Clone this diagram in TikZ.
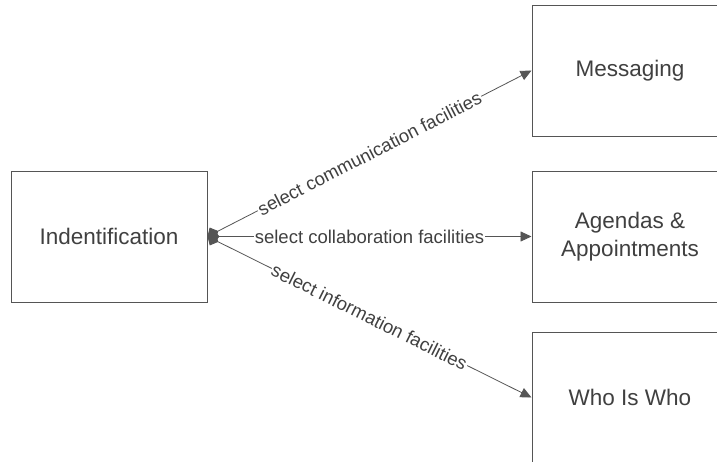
\documentclass[tikz,border=0pt]{standalone}
\usepackage{fontspec}
\setmainfont{Liberation Sans}
\usetikzlibrary{arrows.meta}
\definecolor{ink}{HTML}{404040}
\definecolor{edge}{HTML}{555555}
\begin{document}
\begin{tikzpicture}[x=1pt,y=-1pt,
  block/.style={draw=edge, line width=1pt, fill=white, minimum width=196pt, minimum height=131pt,
    inner sep=0pt, text=ink, align=center, font=\fontsize{22.5}{28}\selectfont},
  link/.style={draw=edge, line width=0.8pt, {Diamond[length=12pt,width=14pt]}-{Triangle[length=11pt,width=10pt]}},
  tag/.style={midway, sloped, fill=white, inner sep=1pt, text=ink, font=\fontsize{18.5}{22}\selectfont}]
  \useasboundingbox (0,0) rectangle (717,461);
  \fill[white] (0,0) rectangle (717,461);
  \begin{scope}
    \clip (0,0) rectangle (717,461);
    \node[block] (ident) at (109,236.5) {Indentification};
    \node[block] (msg)   at (630,70.5)  {Messaging};
    \node[block] (agd)   at (630,236.5) {Agendas \&\\Appointments};
    \node[block] (who)   at (630,397.5) {Who Is Who};
    \draw[link] (ident.east) -- node[tag] {select communication facilities} (msg.west);
    \draw[link] (ident.east) -- node[tag] {select collaboration facilities} (agd.west);
    \draw[link] (ident.east) -- node[tag] {select information facilities} (who.west);
  \end{scope}
\end{tikzpicture}
\end{document}
